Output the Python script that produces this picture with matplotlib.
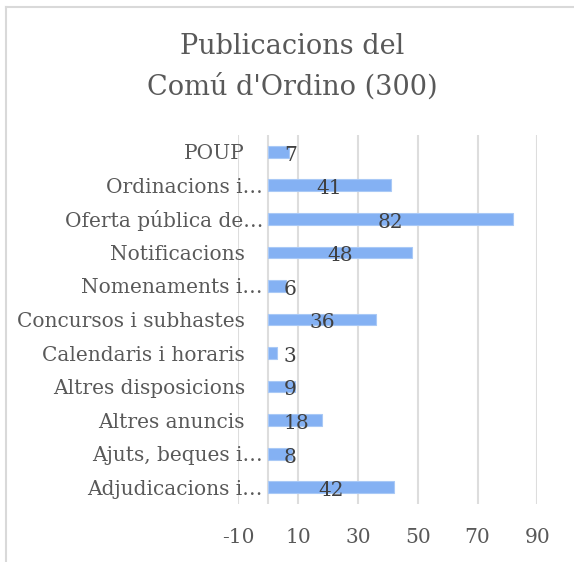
import numpy as np
import matplotlib.pyplot as plt

# Dades: publicacions per categoria (de dalt a baix)
categories = ["POUP", "Ordinacions i\u2026", "Oferta pública de\u2026", "Notificacions",
              "Nomenaments i\u2026", "Concursos i subhastes", "Calendaris i horaris",
              "Altres disposicions", "Altres anuncis", "Ajuts, beques i\u2026",
              "Adjudicacions i\u2026"]
values = [7, 41, 82, 48, 6, 36, 3, 9, 18, 8, 42]
xticks = [-10, 10, 30, 50, 70, 90]
title = "Publicacions del\nComú d'Ordino (300)"

plt.rcParams['font.family'] = ['DejaVu Serif']

fig = plt.figure(figsize=(5.74, 5.62), dpi=100)
ax = fig.add_axes([238.3 / 574, 58 / 562, 299 / 574, 369 / 562])

y = np.arange(len(categories))
ax.barh(y, values, height=0.35, color='#84B1F3', edgecolor='#A9C9F6', linewidth=0.8, zorder=3)

ax.set_xlim(-10, 90)
ax.set_ylim(len(categories) - 0.5, -0.5)
ax.set_xticks(xticks)
ax.set_xticklabels([str(t) for t in xticks])
ax.set_yticks([])
ax.grid(axis='x', color='#DDDDDD', linewidth=1.5, zorder=0)
ax.axvline(0, color='#DDDDDD', linewidth=1.5, zorder=1)
for s in ax.spines.values():
    s.set_visible(False)
ax.tick_params(axis='x', length=0, pad=17, labelsize=14.5, labelcolor='#595959')

# Etiquetes de categoria (les truncades van més a prop de l'eix)
for i, cat in enumerate(categories):
    xpos = 0.0826 if cat.endswith('\u2026') else 0.0224
    ax.text(xpos, i, cat, transform=ax.get_yaxis_transform(), ha='right',
            va='center_baseline', fontsize=14.5, color='#595959')

# Etiquetes de dades
for i, v in enumerate(values):
    if v <= 18:
        ax.text(5.25, i + 0.1, str(v), ha='left', va='center', fontsize=14.5,
                color='#404040', zorder=4)
    else:
        ax.text(v / 2, i + 0.1, str(v), ha='center', va='center', fontsize=14.5,
                color='#404040', zorder=4)

fig.text(292 / 574, 1 - 67 / 562, title, ha='center', va='center', fontsize=19.5,
         color='#595959', linespacing=1.6)

# Vora del gràfic (només es veuen els costats esquerre i superior)
fig.add_artist(plt.Line2D([6 / 574, 6 / 574], [0, 1 - 7 / 562], color='#D9D9D9', linewidth=1.5))
fig.add_artist(plt.Line2D([6 / 574, 1], [1 - 7 / 562, 1 - 7 / 562], color='#D9D9D9', linewidth=1.5))

fig.savefig('out.png', dpi=100)
